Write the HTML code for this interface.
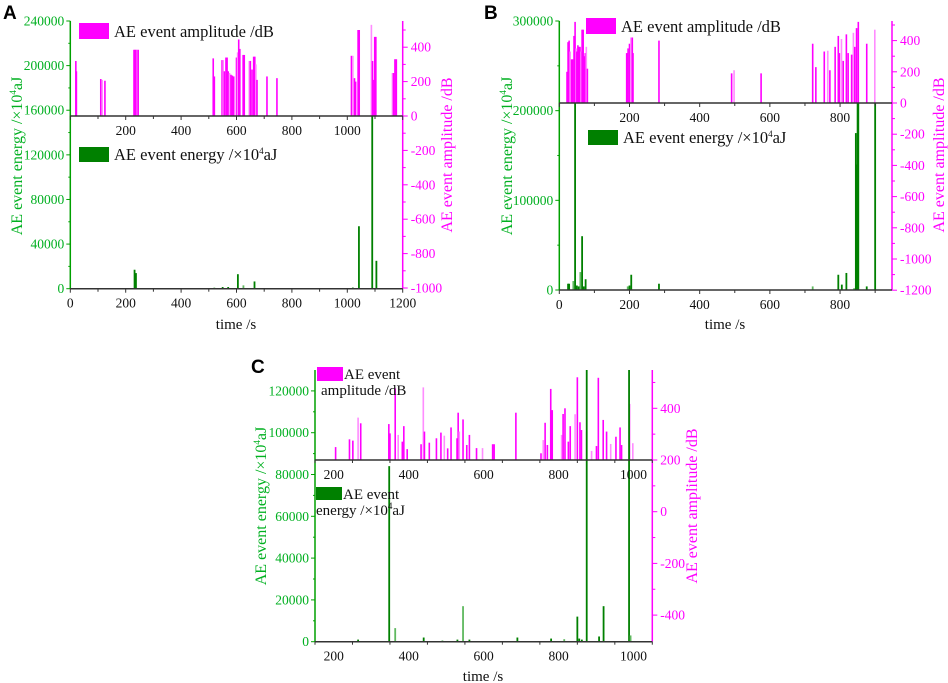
<!DOCTYPE html>
<html><head><meta charset="utf-8">
<style>
html,body{margin:0;padding:0;background:#fff;}
svg{display:block;font-family:"Liberation Serif",serif;}
</style></head>
<body>
<svg id="chart" width="948" height="683" viewBox="0 0 948 683" xmlns="http://www.w3.org/2000/svg"></svg>
<script>
// ---------- Panel A data ----------
const aAmpTimes = [20,22,110,115,125,230,234,238,242,245,516,520,548,552,556,562,566,570,575,580,585,590,600,604,608,612,624,628,646,650,656,662,666,670,674,710,746,1015,1020,1026,1030,1039,1043,1087,1091,1096,1099,1103,1163,1167,1172,1177];
const aAmpValues = [320,260,215,210,205,385,385,385,385,385,335,230,325,325,260,340,340,260,250,240,235,230,340,370,445,390,355,355,320,320,270,345,345,300,210,230,220,350,350,220,200,500,500,530,320,210,460,460,250,250,330,330];
const aEnergyTimes = [232,237,520,550,570,605,625,665,1020,1042,1090,1105,1180];
const aEnergyValues = [17000,14000,1000,1500,1500,13000,3000,6500,1000,56000,155000,25000,500];
// ---------- Panel B data ----------
const bAmpTimes = [22,25,28,31,35,38,42,45,48,50,53,56,59,62,65,68,71,74,77,80,192,196,200,204,208,210,284,491,498,575,722,731,755,765,771,786,795,798,804,809,818,823,833,838,842,847,852,876,899];
const bAmpValues = [200,390,400,330,280,280,430,520,350,330,370,360,360,330,470,470,300,320,360,220,320,350,380,420,420,320,400,190,210,190,380,230,330,335,210,360,430,320,410,270,440,320,310,450,360,480,520,380,470];
const bEnergyTimes = [25,28,40,45,50,55,60,65,70,75,195,200,205,284,722,795,805,818,840,845,848,850,852,876,900];
const bEnergyValues = [7000,7000,10000,208000,5000,4000,20000,60000,4000,12000,4000,5000,17000,7000,4000,17000,6000,19000,2000,175000,140000,208000,208000,4000,208000];
// ---------- Panel C data ----------
const cAmpTimes = [205,242,251,265,272,347,350,364,372,383,387,396,433,439,442,455,474,486,495,504,513,529,532,535,545,555,562,581,597,624,628,686,753,759,764,770,779,783,808,812,817,826,831,844,850,857,861,875,888,901,906,919,928,939,953,964,968,989,998];
const cAmpValues = [250,280,275,364,342,339,303,477,297,271,331,242,261,481,310,267,284,306,294,245,326,284,383,310,357,258,297,246,246,261,261,383,226,277,344,258,475,393,297,378,400,271,331,377,520,346,316,310,235,254,518,355,310,262,290,326,258,417,265];
const cEnergyTimes = [265,348,364,440,490,530,545,562,690,780,815,850,855,862,875,908,920,988,992];
const cEnergyValues = [1000,84000,6500,2000,500,1000,17000,1000,2000,1500,1200,12000,1500,1000,130000,2500,17000,130000,3000];

const energyTicksA = [0,40000,80000,120000,160000,200000,240000];
const energyTicksB = [0,100000,200000,300000];
const energyTicksC = [0,20000,40000,60000,80000,100000,120000];
const ampTicksA = [-1000,-800,-600,-400,-200,0,200,400];
const ampTicksB = [-1200,-1000,-800,-600,-400,-200,0,200,400];
const ampTicksC = [-400,-200,0,200,400];
const timeTicksA = [0,200,400,600,800,1000,1200];
const timeTicksB = [0,200,400,600,800];
const timeTicksC = [200,400,600,800,1000];

const NS = "http://www.w3.org/2000/svg";
const svg = document.getElementById('chart');
function mk(tag, attrs, parent){
  const e = document.createElementNS(NS, tag);
  for (const k in attrs) e.setAttribute(k, attrs[k]);
  (parent||svg).appendChild(e);
  return e;
}
const MAG = "#ff00ff", MAGL = "#ff8cff", GRN = "#008000", GRNL = "#5fb85f", GTXT = "#00b020";

function panel(p){
  const g = mk('g', {});
  
  
  const xS = t => p.x0 + (t - p.tmin) / (p.tmax - p.tmin) * (p.x1 - p.x0);
  const eS = v => p.yB - v / p.emax * (p.yB - p.yT);
  const aS = v => p.div - (v - p.aBase) * p.aScale;
  p.ampT.forEach((t, i) => {
    const v = p.ampV[i];
    const y = aS(v), y0 = aS(p.aBase);
    const r = mk('rect', {x: xS(t) - 0.8, y: y, width: 1.6, height: Math.max(0, y0 - y), fill: (i % 5 === 3) ? MAGL : MAG}, g);
    
    
  });
  p.enT.forEach((t, i) => {
    const v = p.enV[i];
    const y = eS(v);
    const r = mk('rect', {x: xS(t) - 0.9, y: y, width: 1.8, height: Math.max(0.8, p.yB - y), fill: (v > 50000 || i % 4 !== 2) ? GRN : GRNL}, g);
    
    
  });
  const la = mk('line', {x1: p.x0, y1: p.yT, x2: p.x0, y2: p.yB, stroke: "#00a000", 'stroke-width': 1.5}, g);
  
  
  p.eTicks.forEach((v, i) => {
    const y = eS(v);
    mk('line', {x1: p.x0 - 4, y1: y, x2: p.x0, y2: y, stroke: "#00a000"}, g);
    if (i < p.eTicks.length - 1) { const ym = eS(v + (p.eTicks[1] - p.eTicks[0]) / 2); mk('line', {x1: p.x0 - 2, y1: ym, x2: p.x0, y2: ym, stroke: "#00a000"}, g); }
    const t = mk('text', {x: p.x0 - 6, y: y + 4.5, 'text-anchor': 'end', 'font-size': 13.5, fill: GTXT}, g);
    t.textContent = v;
    
    
  });
  const ra = mk('line', {x1: p.x1, y1: p.yT, x2: p.x1, y2: p.yB, stroke: MAG, 'stroke-width': 1.5}, g);
  
  
  p.aTicks.forEach((v, i) => {
    const y = aS(v);
    mk('line', {x1: p.x1, y1: y, x2: p.x1 + 5, y2: y, stroke: MAG}, g);
    const ym = aS(v + 100);
    if (ym > p.yT) mk('line', {x1: p.x1, y1: ym, x2: p.x1 + 3, y2: ym, stroke: MAG}, g);
    const t = mk('text', {x: p.x1 + 8, y: y + 4.5, 'font-size': 13.5, fill: MAG}, g);
    t.textContent = v;
    
    
  });
  [[p.yB, p.botTicks, 'time-axis-bottom'], [p.div, p.topTicks, 'time-axis-top']].forEach(([yy, ticks, nm]) => {
    const l = mk('line', {x1: p.x0, y1: yy, x2: p.x1, y2: yy, stroke: "#333", 'stroke-width': 1.5}, g);
    
    
    for (let t = p.tmin; t <= p.tmax; t += 100) {
      const major = t % 200 === 0;
      mk('line', {x1: xS(t), y1: yy, x2: xS(t), y2: yy + (major ? 4 : 3), stroke: "#333"}, g);
    }
    ticks.forEach(t => {
      const tx = mk('text', {x: xS(t), y: yy + 19, 'text-anchor': 'middle', 'font-size': 13.5, fill: "#111"}, g);
      tx.textContent = t;
      
      
    });
  });
  const lt = mk('text', {transform: `translate(${p.ltx},${p.lty}) rotate(-90)`, 'text-anchor': 'middle', 'font-size': 16, fill: GTXT}, g);
  lt.innerHTML = 'AE event energy /×10<tspan font-size="9" dy="-6">4</tspan><tspan dy="6">aJ</tspan>';
  
  
  const rt = mk('text', {transform: `translate(${p.rtx},${p.rty}) rotate(-90)`, 'text-anchor': 'middle', 'font-size': 16, fill: MAG}, g);
  rt.textContent = 'AE event amplitude /dB';
  
  
  const xt = mk('text', {x: p.xtx, y: p.xty, 'text-anchor': 'middle', 'font-size': 15, fill: "#111"}, g);
  xt.textContent = 'time /s';
  
  
  const pl = mk('text', {x: p.lx, y: p.ly, 'font-size': 19, 'font-weight': 'bold', 'font-family': 'Liberation Sans, sans-serif', fill: "#000"}, g);
  pl.textContent = p.id.toUpperCase();
  
  
  p.legends.forEach(L => {
    const r = mk('rect', {x: L.x, y: L.y, width: L.w, height: L.h, fill: L.c}, g);
    
    
    L.lines.forEach(ln => {
      const t = mk('text', {x: ln[0], y: ln[1], 'font-size': L.fs, fill: "#111"}, g);
      t.innerHTML = ln[2];
      
      
    });
  });
}

const E = 'AE event energy /×10<tspan font-size="9" dy="-6">4</tspan><tspan dy="6">aJ</tspan>';
panel({id:'a', x0:70.3, x1:402.7, tmin:0, tmax:1200, yB:288.7, yT:21, emax:240000, div:116, aBase:0, aScale:0.172,
  ampT:aAmpTimes, ampV:aAmpValues, enT:aEnergyTimes, enV:aEnergyValues, eTicks:energyTicksA, aTicks:ampTicksA,
  botTicks:timeTicksA, topTicks:[200,400,600,800,1000], ltx:22, lty:156, rtx:452, rty:155, xtx:236, xty:329, lx:3, ly:19,
  legends:[{x:79,y:23,w:30,h:16,c:MAG,fs:16.5,lines:[[114,37,'AE event amplitude /dB']]},
           {x:79,y:147,w:30,h:15,c:GRN,fs:16.5,lines:[[114,160,E]]}]});
panel({id:'b', x0:559.3, x1:892, tmin:0, tmax:948, yB:290, yT:21, emax:300000, div:103, aBase:0, aScale:0.156,
  ampT:bAmpTimes, ampV:bAmpValues, enT:bEnergyTimes, enV:bEnergyValues, eTicks:energyTicksB, aTicks:ampTicksB,
  botTicks:timeTicksB, topTicks:[200,400,600,800], ltx:512, lty:156, rtx:944, rty:155, xtx:725, xty:329, lx:484, ly:19,
  legends:[{x:586,y:18,w:30,h:16,c:MAG,fs:16.5,lines:[[621,32,'AE event amplitude /dB']]},
           {x:588,y:130,w:30,h:15,c:GRN,fs:16.5,lines:[[623,143,E]]}]});
panel({id:'c', x0:315, x1:652.3, tmin:150, tmax:1050, yB:641.7, yT:370, emax:130000, div:460, aBase:200, aScale:0.2585,
  ampT:cAmpTimes, ampV:cAmpValues, enT:cEnergyTimes, enV:cEnergyValues, eTicks:energyTicksC, aTicks:ampTicksC,
  botTicks:timeTicksC, topTicks:timeTicksC, ltx:266, lty:506, rtx:697, rty:506, xtx:483, xty:681, lx:251, ly:373,
  legends:[{x:317,y:367,w:26,h:14,c:MAG,fs:15,lines:[[344,379,'AE event'],[321,395,'amplitude /dB']]},
           {x:316,y:487,w:26,h:13,c:GRN,fs:15,lines:[[343,499,'AE event'],[316,515,'energy /×10<tspan font-size="9" dy="-6">4</tspan><tspan dy="6">aJ</tspan>']]}]});
</script>
</body></html>
